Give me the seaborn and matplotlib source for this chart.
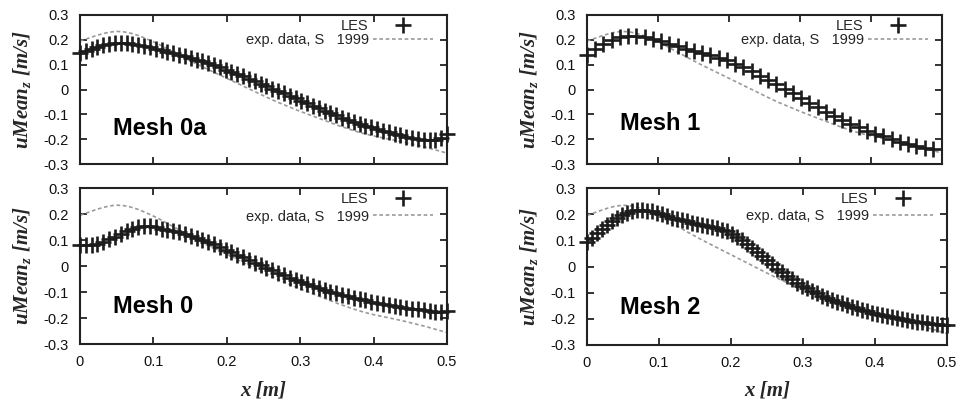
import numpy as np
import pandas as pd
import matplotlib
matplotlib.use('Agg')
import matplotlib.pyplot as plt
import seaborn as sns

# ── Data ─────────────────────────────────────────────────────────────────────
x_ticks = [0.0, 0.1, 0.2, 0.3, 0.4, 0.5]
x_tick_labels = ['0', '0.1', '0.2', '0.3', '0.4', '0.5']
y_ticks = [0.3, 0.2, 0.1, 0.0, -0.1, -0.2, -0.3]
y_tick_labels = ['0.3', '0.2', '0.1', '0', '-0.1', '-0.2', '-0.3']

mesh_names = ['Mesh 0a', 'Mesh 1', 'Mesh 0', 'Mesh 2']
les_x_end = [0.5, 0.487, 0.5, 0.5]

les_mesh0a = [
    0.145, 0.155, 0.163, 0.171, 0.178, 0.184, 0.188, 0.189, 0.188, 0.185,
    0.181, 0.176, 0.170, 0.164, 0.158, 0.152, 0.146, 0.140, 0.134, 0.127,
    0.120, 0.113, 0.105, 0.097, 0.089, 0.080, 0.071, 0.062, 0.053, 0.043,
    0.034, 0.024, 0.014, 0.004, -0.006, -0.016, -0.026, -0.036, -0.046, -0.056,
    -0.066, -0.076, -0.085, -0.095, -0.104, -0.113, -0.121, -0.130, -0.138, -0.146,
    -0.153, -0.160, -0.167, -0.173, -0.179, -0.185, -0.190, -0.195, -0.199, -0.202,
    -0.204, -0.203, -0.196, -0.180,
]
les_mesh1 = [
    0.140, 0.165, 0.185, 0.200, 0.210, 0.215, 0.215, 0.211, 0.203, 0.194,
    0.185, 0.175, 0.165, 0.155, 0.146, 0.137, 0.127, 0.117, 0.104, 0.089,
    0.073, 0.056, 0.039, 0.021, 0.003, -0.016, -0.035, -0.054, -0.072, -0.090,
    -0.108, -0.124, -0.139, -0.153, -0.166, -0.178, -0.189, -0.200, -0.210, -0.219,
    -0.227, -0.234, -0.240,
]
les_mesh0 = [
    0.080, 0.081, 0.082, 0.085, 0.092, 0.102, 0.113, 0.124, 0.134, 0.143,
    0.150, 0.154, 0.153, 0.149, 0.144, 0.139, 0.134, 0.129, 0.123, 0.116,
    0.109, 0.101, 0.092, 0.083, 0.073, 0.063, 0.053, 0.043, 0.033, 0.023,
    0.013, 0.003, -0.007, -0.017, -0.027, -0.036, -0.045, -0.054, -0.062, -0.070,
    -0.078, -0.085, -0.092, -0.099, -0.105, -0.111, -0.117, -0.122, -0.127, -0.132,
    -0.137, -0.141, -0.145, -0.149, -0.153, -0.157, -0.160, -0.164, -0.167, -0.170,
    -0.173, -0.175, -0.176, -0.172,
]
les_mesh2 = [
    0.094, 0.110, 0.127, 0.143, 0.158, 0.172, 0.185, 0.196, 0.205, 0.211,
    0.215, 0.216, 0.214, 0.211, 0.206, 0.200, 0.193, 0.187, 0.181, 0.176,
    0.172, 0.168, 0.164, 0.160, 0.156, 0.152, 0.147, 0.141, 0.134, 0.125,
    0.114, 0.101, 0.087, 0.072, 0.056, 0.040, 0.024, 0.008, -0.008, -0.022,
    -0.036, -0.049, -0.062, -0.073, -0.084, -0.094, -0.103, -0.111, -0.119, -0.127,
    -0.134, -0.141, -0.147, -0.153, -0.159, -0.165, -0.170, -0.176, -0.181, -0.185,
    -0.190, -0.194, -0.198, -0.202, -0.205, -0.208, -0.211, -0.214, -0.217, -0.219,
    -0.221, -0.223, -0.225,
]
les_series = [les_mesh0a, les_mesh1, les_mesh0, les_mesh2]

# experiment (same in every panel), x from 0 to 0.5 in steps of 0.01
exp_u = [
    0.195, 0.205, 0.215, 0.224, 0.231, 0.234, 0.232, 0.226, 0.217, 0.205,
    0.192, 0.178, 0.162, 0.147, 0.131, 0.116, 0.101, 0.087, 0.073, 0.059,
    0.045, 0.031, 0.017, 0.003, -0.011, -0.025, -0.039, -0.052, -0.064, -0.076,
    -0.088, -0.099, -0.110, -0.121, -0.132, -0.143, -0.153, -0.163, -0.172, -0.180,
    -0.187, -0.193, -0.199, -0.205, -0.211, -0.218, -0.225, -0.232, -0.240, -0.248,
    -0.256,
]

# ── Style ─────────────────────────────────────────────────────────────────────
sns.set_style('ticks')
plt.rcParams['font.family'] = ['Liberation Sans', 'DejaVu Sans']
plt.rcParams['mathtext.fontset'] = 'custom'
plt.rcParams['mathtext.it'] = 'Liberation Serif:italic:bold'
plt.rcParams['mathtext.rm'] = 'Liberation Serif:bold'

FIG_W, FIG_H = 962, 405
# panel boxes in pixels: left, top, right, bottom
boxes = [(80, 15, 447, 164), (587, 15, 942, 164),
         (80, 188, 447, 344), (587, 188, 947, 345)]
legend_spacing = [0.0, 0.0, 0.24, 0.2]
mesh_label_pos = [(0.09, 0.195), (0.093, 0.23), (0.09, 0.2), (0.092, 0.2)]

fig = plt.figure(figsize=(FIG_W / 100, FIG_H / 100), dpi=100)
fig.patch.set_facecolor('white')

exp_df = pd.DataFrame({'x': np.linspace(0, 0.5, len(exp_u)), 'u': exp_u})

for i, (l, t, r, b) in enumerate(boxes):
    ax = fig.add_axes([l / FIG_W, 1 - b / FIG_H, (r - l) / FIG_W, (b - t) / FIG_H])
    w_px, h_px = r - l, b - t

    les = les_series[i]
    les_df = pd.DataFrame({'x': np.linspace(0, les_x_end[i], len(les)), 'u': les})

    sns.lineplot(data=les_df, x='x', y='u', ax=ax, label='LES',
                 linestyle='', marker='+', markersize=11,
                 markeredgewidth=1.9, markeredgecolor='#1c1c1c',
                 color='#1c1c1c', clip_on=False, zorder=3)
    sns.lineplot(data=exp_df, x='x', y='u', ax=ax, label='exp. data, S   1999',
                 color='#9a9a9a', linewidth=1.2, linestyle=(0, (2.2, 1.6)),
                 zorder=2)

    ax.set_xlim(0, 0.5)
    ax.set_ylim(-0.3, 0.3)
    ax.set_xticks(x_ticks)
    ax.set_yticks(y_ticks)
    ax.set_yticklabels(y_tick_labels)
    ax.tick_params(direction='in', top=True, right=True, length=5, width=1.2,
                   labelsize=10.5, pad=8, colors='#111111')
    if i < 2:
        ax.set_xticklabels([])
        ax.set_xlabel('')
    else:
        ax.set_xticklabels(x_tick_labels)
        ax.set_xlabel('x [m]', fontsize=15, family='Liberation Serif',
                      fontweight='bold', fontstyle='italic')
        ax.xaxis.set_label_coords(0.5, -36 / h_px)

    ax.set_ylabel('uMean$_z$ [m/s]', fontsize=15, family='Liberation Serif',
                  fontweight='bold', fontstyle='italic')
    ax.yaxis.set_label_coords(-47 / w_px, 0.5)

    for s in ax.spines.values():
        s.set_linewidth(1.5)
        s.set_color('#222222')

    ax.text(mesh_label_pos[i][0], mesh_label_pos[i][1], mesh_names[i],
            transform=ax.transAxes, fontsize=17, fontweight='bold',
            color='black', ha='left', va='baseline')

    ax.legend(loc='upper right', bbox_to_anchor=(1 - 14 / w_px, 1 - 4 / h_px),
              frameon=False, markerfirst=False, fontsize=10.5,
              handlelength=4.1, handletextpad=0.3,
              labelspacing=legend_spacing[i], borderpad=0, borderaxespad=0)

fig.savefig('out.png', dpi=100, facecolor='white')
